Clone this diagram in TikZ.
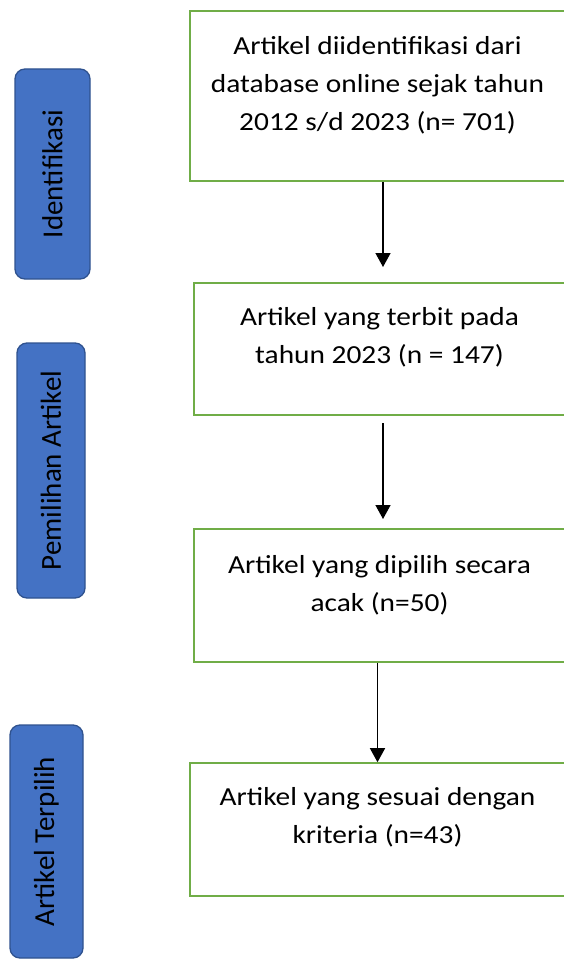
\documentclass[tikz,border=0pt]{standalone}
\usepackage{fontspec}
\setmainfont{Carlito}
\newfontfamily\boxfont[FakeStretch=1.13]{Carlito}
\usetikzlibrary{arrows.meta, positioning}
\definecolor{boxgreen}{HTML}{70AD47}
\definecolor{stageblue}{HTML}{4472C4}
\definecolor{stageedge}{HTML}{2F528F}
\tikzset{
stage/.style={draw=stageedge, fill=stageblue, line width=1.3pt, rounded corners=10pt, rotate=90, inner sep=0pt, font=\fontsize{29}{35}\selectfont},
stepbox/.style={draw=boxgreen, line width=1.6pt, inner sep=0pt},
steptext/.style={align=center, inner sep=0pt, anchor=north, font=\boxfont\fontsize{26}{38}\selectfont},
flow/.style={-{Triangle[width=15pt,length=14pt]}, line width=1.4pt},
}

\begin{document}
\begin{tikzpicture}[x=1pt, y=-1pt]
    \useasboundingbox (0,0) rectangle (563,960);
    % tahapan
    \node[stage, minimum width=210pt, minimum height=75pt] (ident) at (52.5,174) {Identifikasi};
    \node[stage, minimum width=255pt, minimum height=68pt] (pemilihan) at (51,470.5) {Pemilihan Artikel};
    \node[stage, minimum width=233pt, minimum height=73pt] (terpilih) at (46.5,841.5) {Artikel Terpilih};
    % kotak alur
    \node[stepbox, minimum width=375pt, minimum height=170pt] (s1) at (377.5,96) {};
    \node[stepbox, minimum width=371pt, minimum height=132pt] (s2) at (379.5,349) {};
    \node[stepbox, minimum width=371pt, minimum height=133pt] (s3) at (379.5,595.5) {};
    \node[stepbox, minimum width=375pt, minimum height=133pt] (s4) at (377.5,829.5) {};
    \node[steptext, yshift=-26.5pt] (t1) at (s1.north) {Artikel diidentifikasi dari\\database online sejak tahun\\2012 s/d 2023 (n= 701)};
    \node[steptext, yshift=-25pt] (t2) at (s2.north) {Artikel yang terbit pada\\tahun 2023 (n = 147)};
    \node[steptext, yshift=-27.5pt] (t3) at (s3.north) {Artikel yang dipilih secara\\acak (n=50)};
    \node[steptext, yshift=-25pt] (t4) at (s4.north) {Artikel yang sesuai dengan\\kriteria (n=43)};
    % panah
    \coordinate (a1) at (383,267);
    \coordinate (a2s) at (383,423);
    \coordinate (a2) at (383,519);
    \draw[flow] (s1.south -| a1) -- (a1);
    \draw[flow] (a2s) -- (a2);
    \draw[flow] (s3.south -| s4.north) -- (s4.north);
\end{tikzpicture}
\end{document}
